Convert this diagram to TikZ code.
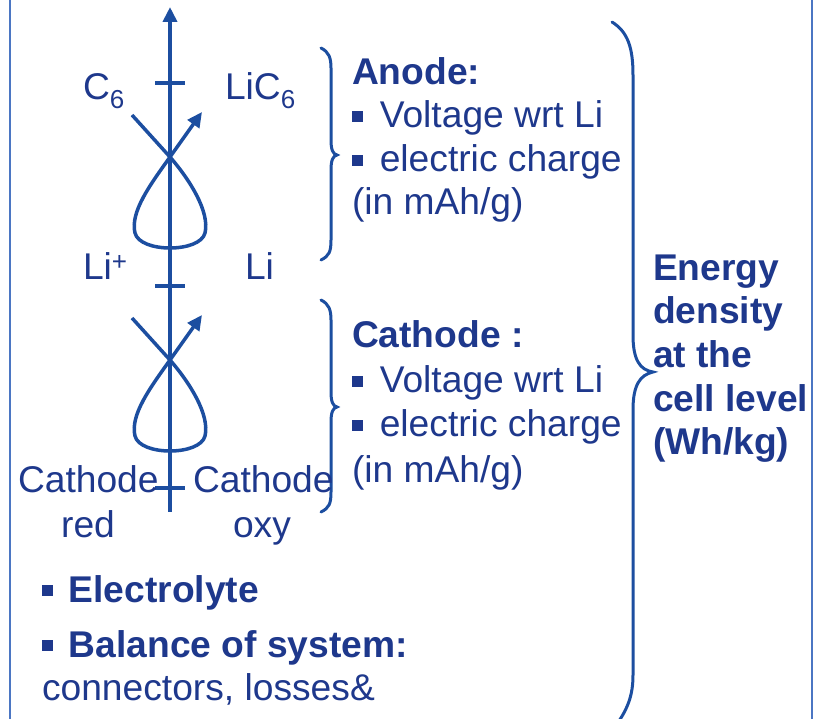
\documentclass[tikz,border=0pt]{standalone}
\usepackage{fontspec}
\setmainfont{Liberation Sans}
\usetikzlibrary{arrows.meta}
\definecolor{txtblue}{RGB}{30,56,140}
\definecolor{lnblue}{RGB}{28,78,160}
\definecolor{frblue}{RGB}{75,118,195}
\newcommand{\sqbul}{\rule[0.17em]{0.29em}{0.29em}}
\newcommand{\lowsix}{\raisebox{-0.22em}{\fontsize{26}{26}\selectfont 6}}
\begin{document}
\begin{tikzpicture}[x=1pt,y=-1pt,
  lbl/.style={anchor=base west, inner sep=0pt, outer sep=0pt, text=txtblue, font=\fontsize{37.2}{44}\selectfont},
  lblb/.style={lbl, font=\fontsize{37.2}{44}\selectfont\bfseries},
  axisline/.style={draw=lnblue, line width=4.5pt},
  curveline/.style={draw=lnblue, line width=3.5pt},
  tickline/.style={draw=lnblue, line width=4pt},
  bracel/.style={draw=lnblue, line width=3pt, line cap=round},
  frameline/.style={draw=frblue, line width=2.5pt},
  tipend/.style={-{Triangle[length=15pt,width=14pt]}}
]
\useasboundingbox (0,0) rectangle (823,719);
% frame
\coordinate (fl1) at (10,0); \coordinate (fl2) at (10,719);
\coordinate (fr1) at (812,0); \coordinate (fr2) at (812,719);
\draw[frameline] (fl1) -- (fl2);
\draw[frameline] (fr1) -- (fr2);
% axis
\coordinate (axb) at (170,512); \coordinate (axt) at (170,7);
\draw[axisline, tipend] (axb) -- (axt);
\foreach \yy/\nm in {83/ta,286/tb,488/tc}{
  \coordinate (\nm1) at (155,\yy); \coordinate (\nm2) at (185,\yy);
  \draw[tickline] (\nm1) -- (\nm2);
}
% loops
\foreach \dy in {0,203}{
\draw[curveline, tipend, shift={(0,\dy)}] (132,115) -- (170,157)
  .. controls (190,180) and (210,212) .. (205,233)
  .. controls (200,253) and (140,253) .. (135,233)
  .. controls (130,212) and (150,185) .. (170,157) -- (202,112);
}
% braces
\foreach \dy in {0,252}{
\draw[bracel, shift={(0,\dy)}] (321,48) .. controls (329,52) and (331,58) .. (331,68) -- (331,140)
  .. controls (331,150) and (333,154) .. (337,155)
  .. controls (333,156) and (331,160) .. (331,170) -- (331,240)
  .. controls (331,252) and (329,256) .. (321,260);
}
\draw[bracel] (612,22) .. controls (628,32) and (633,48) .. (633,75) -- (633,335)
  .. controls (633,360) and (640,370) .. (653,372)
  .. controls (640,375) and (633,385) .. (633,410) -- (633,675)
  .. controls (633,695) and (628,708) .. (617,724);
% left labels
\node[lbl] (c6) at (83,100) {C\lowsix};
\node[lbl] (lic6) at (225,100) {LiC\lowsix};
\node[lbl] (lip) at (83,280) {Li\textsuperscript{+}};
\node[lbl] (li) at (245,280) {Li};
\node[lbl] (catl) at (18,493) {Cathode};
\node[lbl, anchor=base] (red) at (88,538) {red};
\node[lbl] (catr) at (193,493) {Cathode};
\node[lbl, anchor=base] (oxy) at (262,538) {oxy};
% anode text
\node[lblb] (an1) at (352,85) {Anode:};
\node[lbl] (an2) at (352,128) {\sqbul\hspace{17pt}Voltage wrt Li};
\node[lbl] (an3) at (352,172) {\sqbul\hspace{17pt}electric charge};
\node[lbl] (an4) at (352,215) {(in mAh/g)};
% cathode text
\node[lblb] (ca1) at (352,348) {Cathode :};
\node[lbl] (ca2) at (352,393) {\sqbul\hspace{17pt}Voltage wrt Li};
\node[lbl] (ca3) at (352,437) {\sqbul\hspace{17pt}electric charge};
\node[lbl] (ca4) at (352,483) {(in mAh/g)};
% energy
\node[lblb] (en1) at (653,281) {Energy};
\node[lblb] (en2) at (653,324) {density};
\node[lblb] (en3) at (653,368) {at the};
\node[lblb] (en4) at (653,412) {cell level};
\node[lblb] (en5) at (653,455) {(Wh/kg)};
% bottom
\node[lblb] (el) at (42,602) {\sqbul\hspace{16pt}Electrolyte};
\node[lblb] (bs) at (42,657) {\sqbul\hspace{16pt}Balance of system:};
\node[lbl] (cn) at (42,700) {connectors, losses\&};
\end{tikzpicture}
\end{document}
